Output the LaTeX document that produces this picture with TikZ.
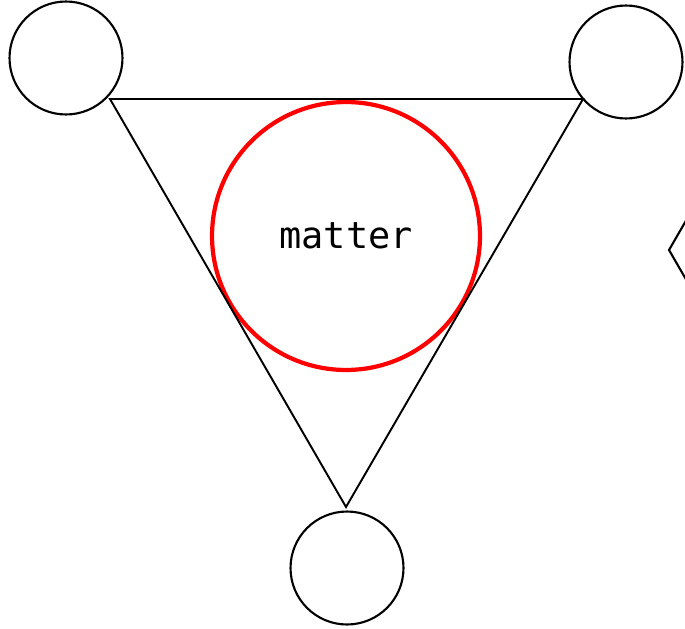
\documentclass[tikz,border=0pt]{standalone}
\usepackage{fontspec}
\newfontfamily\blockfont{DejaVu Sans Mono}
\usetikzlibrary{shapes.geometric}

\begin{document}
\begin{tikzpicture}[
    x=0.02cm, y=-0.02cm,
    role/.style={draw, circle, line width=1.2pt, minimum size=2.26cm, inner sep=0pt},
    core/.style={draw=red, circle, line width=2.4pt, minimum size=5.36cm, inner sep=0pt,
      font=\blockfont\fontsize{21}{24}\selectfont}
  ]
    \clip (0,0) rectangle (685,628);
    \node[role] (actor) at (66,58) {};
    \node[role] (crew) at (626,62) {};
    \node[role] (audience) at (347,568) {};
    \node[core] (matter) at (346,236) {matter};
    % triangle corners
    \coordinate (ta) at (110,99);
    \coordinate (tb) at (583,99);
    \coordinate (tc) at (346,507);
    \draw[line width=1.1pt] (ta) -- (tb) -- (tc) -- cycle;
    % hexagon at the edge
    \node[draw, regular polygon, regular polygon sides=6, shape border rotate=0,
      minimum size=3cm, line width=1.2pt, inner sep=0pt] (hex) at (669+75,250) {};
  \end{tikzpicture}
\end{document}
